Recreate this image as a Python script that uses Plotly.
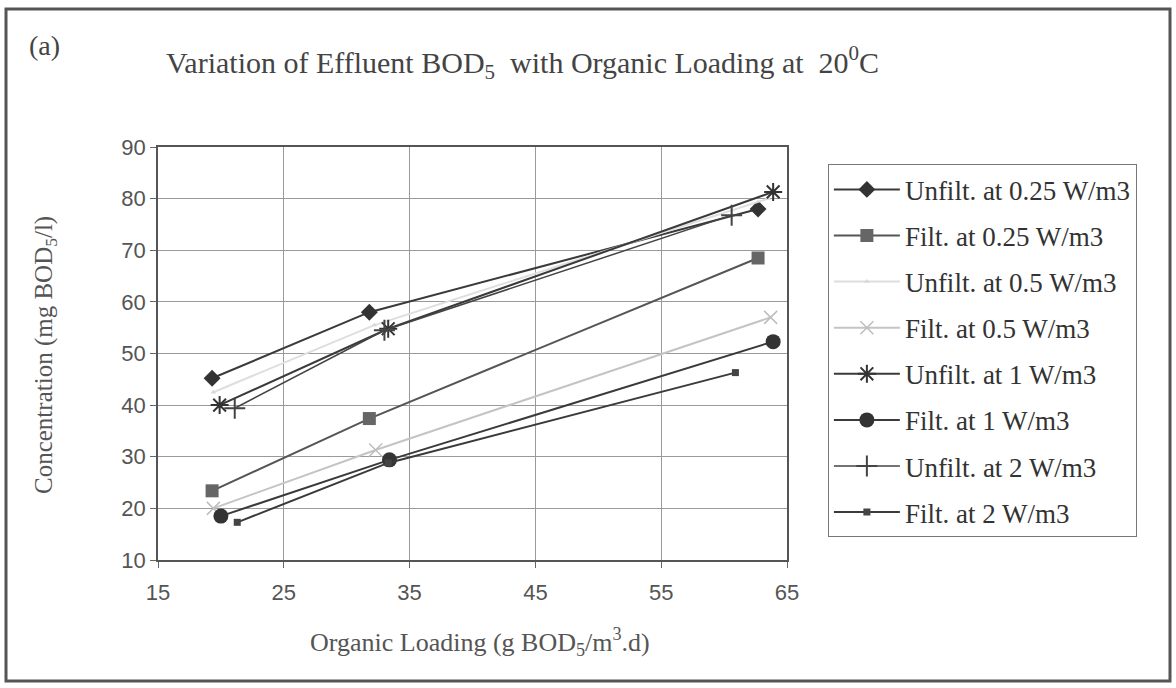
import plotly.graph_objects as go

# ---- data ----
series_names = [
    "Unfilt. at 0.25 W/m3", "Filt. at 0.25 W/m3",
    "Unfilt. at 0.5 W/m3", "Filt. at 0.5 W/m3",
    "Unfilt. at 1 W/m3", "Filt. at 1 W/m3",
    "Unfilt. at 2 W/m3", "Filt. at 2 W/m3",
]
x_unf025 = [19.3, 31.8, 62.7]
y_unf025 = [45.2, 58.0, 78.0]
x_f025 = [19.3, 31.8, 62.7]
y_f025 = [23.4, 37.4, 68.5]
x_unf05 = [19.4, 32.2, 63.5]
y_unf05 = [42.5, 55.5, 80.0]
x_f05 = [19.4, 32.3, 63.7]
y_f05 = [20.0, 31.3, 57.0]
x_unf1 = [19.9, 33.3, 63.9]
y_unf1 = [40.0, 54.8, 81.3]
x_f1 = [20.0, 33.4, 63.9]
y_f1 = [18.5, 29.4, 52.3]
x_unf2 = [21.1, 33.0, 60.6]
y_unf2 = [39.4, 54.5, 76.8]
x_f2 = [21.3, 33.3, 60.9]
y_f2 = [17.3, 28.8, 46.3]

x_ticks = [15, 25, 35, 45, 55, 65]
y_ticks = [10, 20, 30, 40, 50, 60, 70, 80, 90]

xs = [x_unf025, x_f025, x_unf05, x_f05, x_unf1, x_f1, x_unf2, x_f2]
ys = [y_unf025, y_f025, y_unf05, y_f05, y_unf1, y_f1, y_unf2, y_f2]

styles = [
    dict(line=dict(color="#3a3a3a", width=2), marker=dict(symbol="diamond", size=13, color="#333333")),
    dict(line=dict(color="#555555", width=2), marker=dict(symbol="square", size=13, color="#666666")),
    dict(line=dict(color="#dedede", width=2), marker=dict(symbol="triangle-up", size=5, color="#d8d8d8")),
    dict(line=dict(color="#c4c4c4", width=2), marker=dict(symbol="x-thin-open", size=13, color="#bdbdbd", line=dict(width=1.5, color="#bdbdbd"))),
    dict(line=dict(color="#3a3a3a", width=2), marker=dict(symbol="asterisk-open", size=15, color="#333333", line=dict(width=2, color="#333333"))),
    dict(line=dict(color="#3a3a3a", width=2), marker=dict(symbol="circle", size=15, color="#333333")),
    dict(line=dict(color="#444444", width=1.5), marker=dict(symbol="cross-thin-open", size=15, color="#444444", line=dict(width=2, color="#444444"))),
    dict(line=dict(color="#3a3a3a", width=2), marker=dict(symbol="square", size=7, color="#444444")),
]

fig = go.Figure()
for i, (name, xv, yv) in enumerate(zip(series_names, xs, ys)):
    fig.add_trace(go.Scatter(
        x=xv, y=yv, name=name, mode="lines+markers",
        legendgroup=f"g{i}", **styles[i]))

serif = "Liberation Serif"
sans = "Liberation Sans"

fig.update_layout(
    width=1176, height=688,
    paper_bgcolor="white", plot_bgcolor="white",
    margin=dict(l=158, r=389, t=147, b=128),
    showlegend=True,
    legend=dict(
        x=1.065, y=0.958, xanchor="left", yanchor="top",
        font=dict(family=serif, size=27, color="#333333"),
        bordercolor="#777777", borderwidth=1, bgcolor="white",
        itemwidth=66, tracegroupgap=8,
    ),
    xaxis=dict(
        range=[15, 65], tickvals=x_ticks, ticktext=[str(v) for v in x_ticks],
        showgrid=True, gridcolor="#9a9a9a", gridwidth=1,
        showline=True, linecolor="#555555", linewidth=1.5, mirror=True,
        ticks="outside", ticklen=6, tickcolor="#666666",
        tickfont=dict(family=sans, size=22, color="#555555"),
        ticklabelstandoff=6, zeroline=False,
    ),
    yaxis=dict(
        range=[10, 90], tickvals=y_ticks, ticktext=[str(v) for v in y_ticks],
        showgrid=True, gridcolor="#9a9a9a", gridwidth=1,
        showline=True, linecolor="#555555", linewidth=1.5, mirror=True,
        ticks="outside", ticklen=6, tickcolor="#666666",
        tickfont=dict(family=sans, size=22, color="#555555"),
        zeroline=False,
    ),
    annotations=[
        dict(text="(a)", xref="paper", yref="paper",
             x=(27 - 158) / 629, y=(560 - 46) / 413, xanchor="left", yanchor="middle",
             showarrow=False, font=dict(family=serif, size=28, color="#444444")),
        dict(text="Variation of Effluent BOD<sub>5</sub>  with Organic Loading at  20<sup>0</sup>C",
             xref="paper", yref="paper",
             x=(164 - 158) / 629, y=(560 - 62) / 413, xanchor="left", yanchor="middle",
             showarrow=False, font=dict(family=serif, size=30, color="#444444")),
        dict(text="Concentration (mg BOD<sub>5</sub>/l)", xref="paper", yref="paper",
             x=(45 - 158) / 629, y=(560 - 355) / 413, xanchor="center", yanchor="middle",
             textangle=-90, showarrow=False, font=dict(family=serif, size=25, color="#555555")),
        dict(text="Organic Loading (g BOD<sub>5</sub>/m<sup>3</sup>.d)", xref="paper", yref="paper",
             x=(480 - 158) / 629, y=(560 - 642) / 413, xanchor="center", yanchor="middle",
             showarrow=False, font=dict(family=serif, size=26, color="#555555")),
    ],
    shapes=[
        dict(type="rect", xref="paper", yref="paper",
             x0=(6 - 158) / 629, x1=(1170 - 158) / 629,
             y0=(560 - 681) / 413, y1=(560 - 9) / 413,
             line=dict(color="#555555", width=3), fillcolor="rgba(0,0,0,0)", layer="below"),
    ],
)

fig.write_html("out.html")
